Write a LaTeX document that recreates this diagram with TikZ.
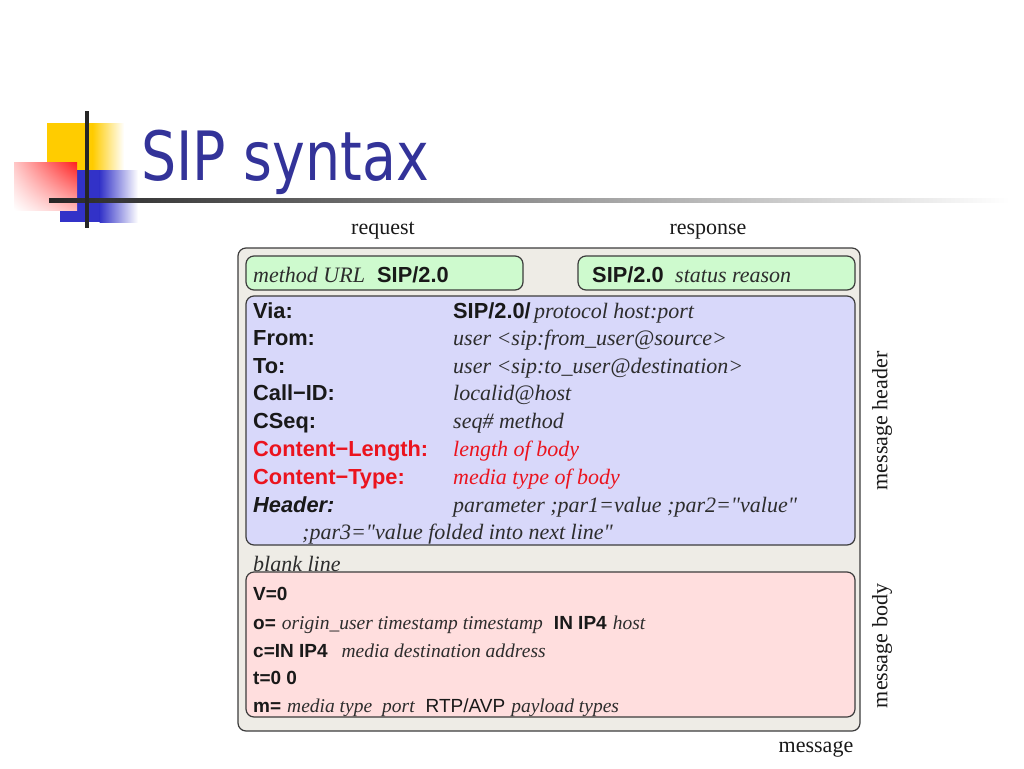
\documentclass[tikz,border=0pt]{standalone}
\usepackage{fontspec}
\usetikzlibrary{shadings}
\setmainfont{Liberation Serif}
\newfontfamily\hv{Liberation Sans}
\newfontfamily\tfont{DejaVu Sans}
\definecolor{titleblue}{RGB}{51,51,153}
\definecolor{outerfill}{RGB}{238,236,230}
\definecolor{greenfill}{RGB}{206,250,206}
\definecolor{bluefill}{RGB}{216,216,250}
\definecolor{pinkfill}{RGB}{255,222,222}
\definecolor{redtxt}{RGB}{235,20,30}
\definecolor{edge}{RGB}{60,60,60}
\definecolor{txt}{RGB}{25,25,25}
\definecolor{itx}{RGB}{45,45,45}
\definecolor{logoyellow}{RGB}{255,204,0}
\definecolor{logoblue}{RGB}{50,50,200}
\definecolor{logored}{RGB}{255,30,30}
\newcommand{\qq}{\textquotedbl}
\newcommand{\bsans}{\hv\bfseries\fontsize{19}{19}\selectfont}
\newcommand{\bital}{\itshape\color{itx}\fontsize{19.5}{19.5}\selectfont}
\begin{document}
\begin{tikzpicture}[x=1pt,y=-1pt,
  box/.style={draw=edge, line width=1.2pt, rounded corners=8pt, inner sep=0pt},
  lab/.style={anchor=base west, inner sep=0pt},
  hb/.style={lab, text=txt, font=\hv\bfseries\fontsize{21.8}{21.8}\selectfont},
  hi/.style={lab, text=itx, font=\itshape\fontsize{22}{22}\selectfont},
  bb/.style={lab, text=txt, font=\bsans},
  side/.style={inner sep=0pt, text=txt, font=\fontsize{22}{22}\selectfont}]
\useasboundingbox (0,0) rectangle (1024,768);
% logo
\fill[logoyellow] (47,123) rectangle (93,170);
\shade[left color=logoyellow, right color=white] (92.5,123) rectangle (124,170);
\fill[logoblue] (60,170) rectangle (100,222);
\shade[left color=logoblue, right color=white] (99.5,170) rectangle (138,222);
\shade[upper right=logored, upper left=logored!25, lower left=white, lower right=logored!30] (14,162) rectangle (77,210);
\shade[left color=black!85, right color=white] (49,198) rectangle (1010,202);
\fill[black!85] (85,111) rectangle (89,228);
% title
\node[anchor=base west, inner sep=0pt, text=titleblue, font=\tfont\fontsize{68}{68}\selectfont] (title) at (141,180) {\scalebox{0.815}[1]{SIP syntax}};
% boxes
\node[box, fill=outerfill, minimum width=622pt, minimum height=483pt] (msg) at (549,489.5) {};
\node[box, fill=greenfill, minimum width=277pt, minimum height=34pt] (req) at (384.5,273) {};
\node[box, fill=greenfill, minimum width=277pt, minimum height=34pt] (resp) at (716.5,273) {};
\node[box, fill=bluefill, minimum width=609pt, minimum height=249pt] (hdr) at (550.5,420.5) {};
\node[box, fill=pinkfill, minimum width=609pt, minimum height=145pt] (body) at (550.5,644.5) {};
% side labels
\node[side, anchor=base] (lreq) at (383,234) {request};
\node[side, anchor=base] (lresp) at (708,234) {response};
\node[side, anchor=base] (lmsg) at (816,752) {message};
\node[side, rotate=90] (lhdr) at (882,421) {message header};
\node[side, rotate=90] (lbody) at (882,646) {message body};
% start lines
\node[hi] (t1) at (253,282) {method URL};
\node[hb] (t2) at (377,282) {SIP/2.0};
\node[hb] (t3) at (592,282) {SIP/2.0};
\node[hi] (t4) at (675,282) {status reason};
% header
\node[hb] (h1) at (253,318) {Via:};
\node[hb] (h2) at (253,345) {From:};
\node[hb] (h3) at (253,373) {To:};
\node[hb] (h4) at (253,400) {Call−ID:};
\node[hb] (h5) at (253,428) {CSeq:};
\node[hb, text=redtxt] (h6) at (253,456) {Content−Length:};
\node[hb, text=redtxt] (h7) at (253,484) {Content−Type:};
\node[hb, font=\hv\bfseries\itshape\fontsize{21.8}{21.8}\selectfont] (h8) at (253,512) {Header:};
\node[hb] (v1) at (453,318) {SIP/2.0/};
\node[hi] (v1b) at ([xshift=3pt]v1.base east) {protocol host:port};
\node[hi] (v2) at (453,345) {user <sip:from\_user@source>};
\node[hi] (v3) at (453,373) {user <sip:to\_user@destination>};
\node[hi] (v4) at (453,400) {localid@host};
\node[hi] (v5) at (453,428) {seq\# method};
\node[hi, text=redtxt] (v6) at (453,456) {length of body};
\node[hi, text=redtxt] (v7) at (453,484) {media type of body};
\node[hi] (v8) at (453,512) {parameter ;par1=value ;par2=\qq value\qq};
\node[hi] (v9) at (302,539) {;par3=\qq value folded into next line\qq};
\node[hi] (blank) at (253,571) {blank line};
% body
\node[bb] (b1) at (253,600) {V=0};
\node[lab, text=txt] (b2) at (253,629) {{\bsans o=}\hspace{6pt}{\bital origin\_user timestamp timestamp}\hspace{11pt}{\bsans IN IP4}\hspace{6pt}{\bital host}};
\node[lab, text=txt] (b3) at (253,657) {{\bsans c=IN IP4}\hspace{14pt}{\bital media destination address}};
\node[bb] (b4) at (253,684) {t=0 0};
\node[lab, text=txt] (b5) at (253,712) {{\bsans m=}\hspace{6pt}{\bital media type\hspace{10pt}port}\hspace{11pt}{\hv\fontsize{19}{19}\selectfont RTP/AVP}\hspace{6pt}{\bital payload types}};
\end{tikzpicture}
\end{document}
